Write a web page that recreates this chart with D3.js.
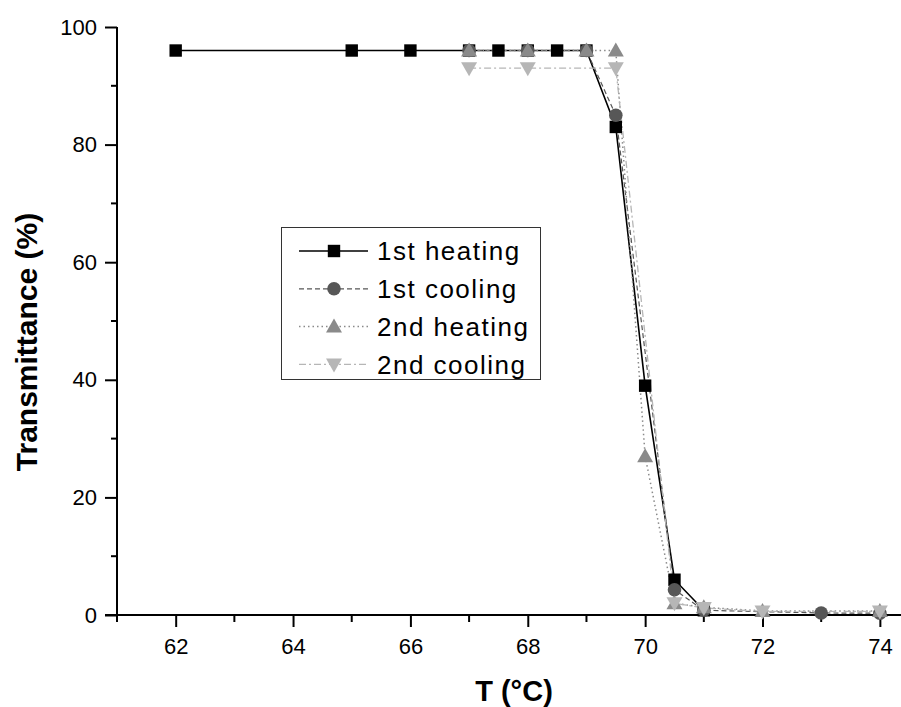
<!DOCTYPE html>
<html><head><meta charset="utf-8">
<script src="https://cdn.jsdelivr.net/npm/d3@7"></script>
<style>body{margin:0;background:#fff;} svg{display:block;font-family:Arial,"Liberation Sans",sans-serif;}</style>
</head><body><svg id="c" width="901" height="707"></svg>
<script>
const xTicks = [62,64,66,68,70,72,74];
const yTicks = [0,20,40,60,80,100];

const heat1X = [62,65,66,67,67.5,68,68.5,69,69.5,70,70.5,71];
const heat1Y = [96,96,96,96,96,96,96,96,83,39,6,0.8];
const cool1X = [67,68,69,69.5,70.5,71,73,74];
const cool1Y = [96,96,96,85,4.3,0.8,0.35,0.3];
const heat2X = [67,68,69,69.5,70,70.5,71,72,74];
const heat2Y = [96,96,96,96,27,2,1.3,0.7,0.7];
const cool2X = [67,68,69.5,70.5,71,72,74];
const cool2Y = [93,93,93,2,1.2,0.6,0.6];

const seriesNames = ["1st heating","1st cooling","2nd heating","2nd cooling"];

const svg = d3.select("#c");
const x = d3.scaleLinear().domain([61, 74.36]).range([117, 901]);
const y = d3.scaleLinear().domain([0, 100]).range([615, 27]);

const series = [
  {name: seriesNames[0], xs: heat1X, ys: heat1Y, color:"#000000", dash:null, w:1.6, sym:"square"},
  {name: seriesNames[1], xs: cool1X, ys: cool1Y, color:"#575757", dash:"5,3", w:1.2, sym:"circle"},
  {name: seriesNames[2], xs: heat2X, ys: heat2Y, color:"#8a8a8a", dash:"1.5,3", w:1.5, sym:"up"},
  {name: seriesNames[3], xs: cool2X, ys: cool2Y, color:"#b6b6b6", dash:"7,3,2,3", w:1.3, sym:"down"}
];

function marker(g, sym, cx, cy, color){
  if(sym==="square") g.append("rect").attr("x",cx-6.2).attr("y",cy-6.2).attr("width",12.4).attr("height",12.4).attr("fill",color);
  else if(sym==="circle") g.append("circle").attr("cx",cx).attr("cy",cy).attr("r",6.8).attr("fill",color);
  else if(sym==="up") g.append("path").attr("d",`M${cx},${cy-8}L${cx+8},${cy+6}L${cx-8},${cy+6}Z`).attr("fill",color);
  else g.append("path").attr("d",`M${cx},${cy+8}L${cx+8},${cy-6}L${cx-8},${cy-6}Z`).attr("fill",color);
}

// axes
const xAxis = d3.axisBottom(x).tickValues(xTicks).tickSize(12).tickFormat(d3.format("d"));
const xg = svg.append("g").attr("transform","translate(0,615)").call(xAxis);
xg.select(".domain").attr("d","M105,0H901").attr("stroke","#000").attr("stroke-width",2);
xg.selectAll(".tick line").attr("stroke-width",2);
xg.selectAll(".tick text").attr("font-size",22).attr("y",39).attr("dy",0).attr("fill","#000");
const xMinor = d3.range(61,75,2);
svg.append("g").selectAll("line").data(xMinor).join("line")
  .attr("x1",d=>x(d)).attr("x2",d=>x(d)).attr("y1",615).attr("y2",622)
  .attr("stroke","#000").attr("stroke-width",2);

const yAxis = d3.axisLeft(y).tickValues(yTicks).tickSize(12);
const yg = svg.append("g").attr("transform","translate(117,0)").call(yAxis);
yg.select(".domain").attr("d","M0,27V615").attr("stroke","#000").attr("stroke-width",2);
yg.selectAll(".tick line").attr("stroke-width",2);
yg.selectAll(".tick text").attr("font-size",22).attr("fill","#000").attr("x",-20);
const yMinor = [10,30,50,70,90];
svg.append("g").selectAll("line").data(yMinor).join("line")
  .attr("x1",111).attr("x2",117).attr("y1",d=>y(d)).attr("y2",d=>y(d))
  .attr("stroke","#000").attr("stroke-width",2);

// titles
svg.append("text").attr("x",514).attr("y",701).attr("text-anchor","middle")
  .attr("font-size",29).attr("font-weight","bold").text("T (°C)");
svg.append("text").attr("transform","translate(37,342) rotate(-90)").attr("text-anchor","middle")
  .attr("font-size",30).attr("font-weight","bold").text("Transmittance (%)");

// series (1st heating at the bottom, 2nd cooling on top)
const plot = svg.append("g");
series.forEach(s=>{
  const pts = s.xs.map((v,i)=>[v, s.ys[i]]);
  plot.append("path").datum(pts)
    .attr("d", d3.line().x(d=>x(d[0])).y(d=>y(d[1])))
    .attr("fill","none").attr("stroke",s.color).attr("stroke-width",s.w)
    .attr("stroke-dasharray",s.dash);
});
series.forEach(s=>{
  const mg = plot.append("g");
  s.xs.forEach((v,i)=>marker(mg, s.sym, x(v), y(s.ys[i]), s.color));
});

// legend
const lg = svg.append("g");
lg.append("rect").attr("x",281.5).attr("y",227.5).attr("width",259).attr("height",152)
  .attr("fill","#fff").attr("stroke","#333").attr("stroke-width",1);
series.forEach((s,i)=>{
  const cy = 251 + i*37.8;
  lg.append("line").attr("x1",299).attr("x2",368).attr("y1",cy).attr("y2",cy)
    .attr("stroke",s.color).attr("stroke-width",s.w).attr("stroke-dasharray",s.dash);
  marker(lg, s.sym, 334, cy, s.color);
  lg.append("text").attr("x",377).attr("y",cy).attr("dy","0.36em")
    .attr("font-size",26).attr("letter-spacing",1.5).attr("fill","#000").text(s.name);
});
</script></body></html>
